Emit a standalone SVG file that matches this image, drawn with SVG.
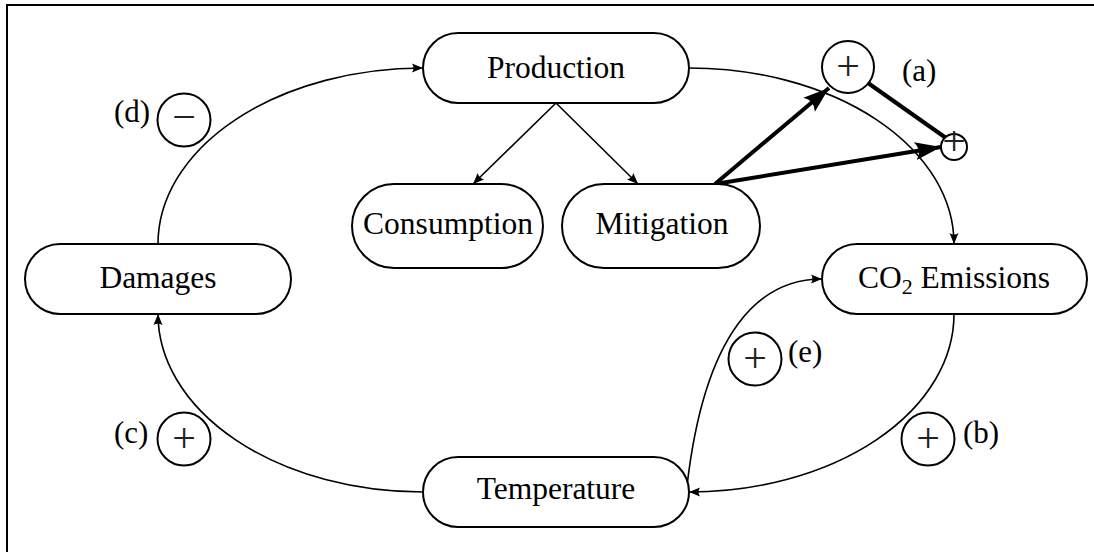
<svg xmlns="http://www.w3.org/2000/svg" width="1094" height="552" viewBox="0 0 1094 552">
<defs>
<style>
.node rect{fill:#fff;stroke:#000;stroke-width:2}
.lbl{font-family:"Liberation Serif","Times New Roman",serif;font-size:31.5px;fill:#000;text-anchor:middle}
.tag{font-family:"Liberation Serif","Times New Roman",serif;font-size:31px;fill:#000}
.sign{font-family:"Liberation Serif","Times New Roman",serif;font-size:42px;fill:#222;text-anchor:middle}
.circ{fill:#fff;stroke:#000;stroke-width:2}
.thin{fill:none;stroke:#000;stroke-width:1.6}
.thick{fill:none;stroke:#000;stroke-width:4}
</style>
<marker id="ah" markerUnits="userSpaceOnUse" viewBox="-12 -6 13 12" refX="0" refY="0" markerWidth="13" markerHeight="12" orient="auto">
<path d="M0,0 L-11,-4.5 Q-8,0 -11,4.5 Z" fill="#000"/>
</marker>
<marker id="ahb" markerUnits="userSpaceOnUse" viewBox="-28 -11 29 22" refX="0" refY="0" markerWidth="29" markerHeight="22" orient="auto">
<path d="M0,0 L-26,-9 Q-19,0 -26,9 Z" fill="#000"/>
</marker>
</defs>
<rect width="1094" height="552" fill="#fff"/>
<path d="M7,552 V5 H1094" fill="none" stroke="#000" stroke-width="2"/>

<g id="connectors">
<path class="thin" d="M158,244 A265,176 0 0 1 423,68" marker-end="url(#ah)"/>
<path class="thin" d="M689,68 A265,176 0 0 1 954,244" marker-end="url(#ah)"/>
<path class="thin" d="M954,314 A265,178 0 0 1 689,492" marker-end="url(#ah)"/>
<path class="thin" d="M423,492 A265,178 0 0 1 158,314" marker-end="url(#ah)"/>
<path class="thin" d="M687,486 C705,330 760,279 822,279" marker-end="url(#ah)"/>
<path class="thin" d="M556,103 L473,184" marker-end="url(#ah)"/>
<path class="thin" d="M556,103 L638,184" marker-end="url(#ah)"/>
<path class="thick" d="M715,184 L829,88" marker-end="url(#ahb)"/>
<path class="thick" d="M715,184 L941,147" marker-end="url(#ahb)"/>
<path class="thick" d="M868,83 L946,138"/>
</g>

<g id="production" class="node"><rect x="423" y="33" width="266" height="70" rx="35"/><text class="lbl" x="556" y="78">Production</text></g>
<g id="consumption" class="node"><rect x="352" y="184" width="191" height="84" rx="42"/><text class="lbl" x="448" y="234">Consumption</text></g>
<g id="mitigation" class="node"><rect x="562" y="184" width="198" height="84" rx="42"/><text class="lbl" x="662" y="234">Mitigation</text></g>
<g id="damages" class="node"><rect x="25" y="244" width="266" height="70" rx="35"/><text class="lbl" x="158" y="288">Damages</text></g>
<g id="co2" class="node"><rect x="822" y="244" width="265" height="70" rx="35"/><text class="lbl" x="954" y="288">CO<tspan font-size="22" dy="6">2</tspan><tspan dy="-6"> Emissions</tspan></text></g>
<g id="temperature" class="node"><rect x="423" y="457" width="266" height="70" rx="35"/><text class="lbl" x="556" y="499">Temperature</text></g>

<g id="sign-a"><circle class="circ" cx="848" cy="67" r="26"/><text class="sign" x="848" y="80">+</text><text class="tag" x="902" y="81">(a)</text></g>
<g id="sign-a2"><circle class="circ" cx="954" cy="147" r="13"/><text class="sign" x="954" y="155" font-size="27">+</text></g>
<g id="sign-b"><circle class="circ" cx="928" cy="439" r="26.5"/><text class="sign" x="928" y="452">+</text><text class="tag" x="963" y="443">(b)</text></g>
<g id="sign-c"><circle class="circ" cx="184" cy="439" r="26.5"/><text class="sign" x="184" y="452">+</text><text class="tag" x="114" y="443">(c)</text></g>
<g id="sign-d"><circle class="circ" cx="184" cy="120" r="26.5"/><text class="sign" x="184" y="131" font-size="32">−</text><text class="tag" x="114" y="122">(d)</text></g>
<g id="sign-e"><circle class="circ" cx="755" cy="359" r="26.5"/><text class="sign" x="755" y="372">+</text><text class="tag" x="788" y="362">(e)</text></g>
</svg>
